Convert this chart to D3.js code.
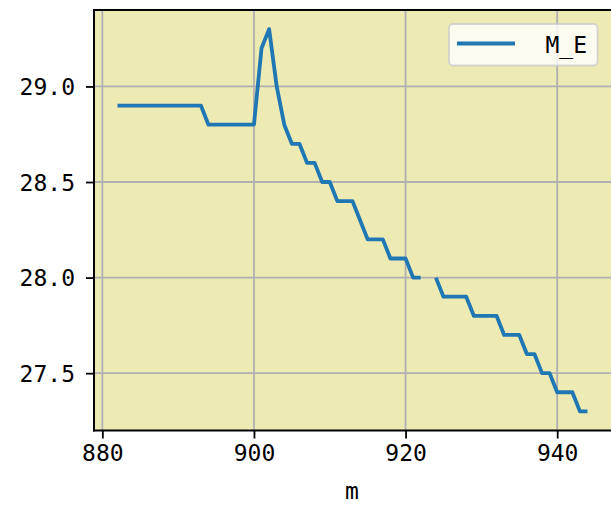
<!DOCTYPE html>
<html><head><meta charset="utf-8">
<script src="https://cdn.jsdelivr.net/npm/d3@7"></script>
<style>body{margin:0;background:#fff}svg{display:block}</style>
</head><body>
<script>
const mValues = [882,883,884,885,886,887,888,889,890,891,892,893,894,895,896,897,898,899,900,
  901,902,903,904,905,906,907,908,909,910,911,912,913,914,915,916,917,918,919,920,921,922,923,
  924,925,926,927,928,929,930,931,932,933,934,935,936,937,938,939,940,941,942,943,944];
const meValues = [28.9,28.9,28.9,28.9,28.9,28.9,28.9,28.9,28.9,28.9,28.9,28.9,
  28.8,28.8,28.8,28.8,28.8,28.8,28.8,
  29.2,29.3,29.0,28.8,28.7,28.7,28.6,28.6,28.5,28.5,28.4,28.4,28.4,28.3,28.2,28.2,28.2,
  28.1,28.1,28.1,28.0,28.0,null,
  28.0,27.9,27.9,27.9,27.9,27.8,27.8,27.8,27.8,27.7,27.7,27.7,27.6,27.6,27.5,27.5,
  27.4,27.4,27.4,27.3,27.3];
const xTicks = [880,900,920,940];
const yTicks = [27.5,28.0,28.5,29.0];
const yTickLabels = ["27.5","28.0","28.5","29.0"];
const seriesName = "M_E";
const xLabel = "m";

const W = 611, H = 514;
const L = 94, R = 611, T = 10, B = 430.5;
const font = "'DejaVu Sans Mono', monospace";

const svg = d3.select("body").append("svg").attr("width", W).attr("height", H);
const xMin = d3.min(mValues), xMax = d3.max(mValues);
const yMin = d3.min(meValues), yMax = d3.max(meValues);
const xPad = (xMax - xMin) * 0.05, yPad = (yMax - yMin) * 0.05;
const x = d3.scaleLinear().domain([xMin - xPad, xMax + xPad]).range([L, R]);
const y = d3.scaleLinear().domain([yMin - yPad, yMax + yPad]).range([B, T]);

svg.append("rect").attr("x", L).attr("y", T).attr("width", R - L).attr("height", B - T)
  .attr("fill", "#EEEAB4");

const grid = svg.append("g").attr("stroke", "#b0b0b0").attr("stroke-width", 1.8);
xTicks.forEach(t => grid.append("line").attr("x1", x(t)).attr("x2", x(t)).attr("y1", T).attr("y2", B));
yTicks.forEach(t => grid.append("line").attr("x1", L).attr("x2", R).attr("y1", y(t)).attr("y2", y(t)));

const data = mValues.map((m, i) => ({m, v: meValues[i]}));
const line = d3.line().defined(d => d.v !== null).x(d => x(d.m)).y(d => y(d.v));
svg.append("path").datum(data).attr("d", line).attr("fill", "none")
  .attr("stroke", "#1f77b4").attr("stroke-width", 3.8).attr("stroke-linejoin", "round")
  .attr("stroke-linecap", "butt");

// axes
const xAxis = d3.axisBottom(x).tickValues(xTicks).tickSize(8).tickPadding(6).tickFormat(d3.format("d"));
const gx = svg.append("g").attr("transform", `translate(0,${B})`).call(xAxis);
gx.select(".domain").remove();
gx.selectAll(".tick line").attr("stroke", "#000").attr("stroke-width", 1.8);
gx.selectAll(".tick text").attr("font-family", font).attr("font-size", 23).attr("fill", "#000")
  .attr("dy", "0.71em");

const yAxis = d3.axisLeft(y).tickValues(yTicks).tickSize(8).tickPadding(11)
  .tickFormat((d, i) => yTickLabels[i]);
const gy = svg.append("g").attr("transform", `translate(${L},0)`).call(yAxis);
gy.select(".domain").remove();
gy.selectAll(".tick line").attr("stroke", "#000").attr("stroke-width", 1.8);
gy.selectAll(".tick text").attr("font-family", font).attr("font-size", 23).attr("fill", "#000")
  .attr("dy", "0.36em");

// spines
const sp = svg.append("g").attr("stroke", "#000").attr("stroke-width", 2).attr("fill", "none");
sp.append("line").attr("x1", L).attr("x2", L).attr("y1", T - 1).attr("y2", B + 1);
sp.append("line").attr("x1", L - 1).attr("x2", R).attr("y1", B).attr("y2", B);
sp.append("line").attr("x1", L - 1).attr("x2", R).attr("y1", T).attr("y2", T);

// x label
svg.append("text").attr("x", (L + 611) / 2 - 0.5).attr("y", 499).attr("text-anchor", "middle")
  .attr("font-family", font).attr("font-size", 23).attr("fill", "#000").text(xLabel);

// legend
const lg = svg.append("g");
lg.append("rect").attr("x", 449).attr("y", 24).attr("width", 148.5).attr("height", 41.5)
  .attr("rx", 4).attr("fill", "#fff").attr("fill-opacity", 0.8)
  .attr("stroke", "#cccccc").attr("stroke-opacity", 0.8).attr("stroke-width", 1.8);
lg.append("line").attr("x1", 457).attr("x2", 515).attr("y1", 43.5).attr("y2", 43.5)
  .attr("stroke", "#1f77b4").attr("stroke-width", 3.8);
lg.append("text").attr("x", 587).attr("y", 52.5).attr("text-anchor", "end")
  .attr("font-family", font).attr("font-size", 23).attr("fill", "#000").text(seriesName);
</script>
</body></html>
